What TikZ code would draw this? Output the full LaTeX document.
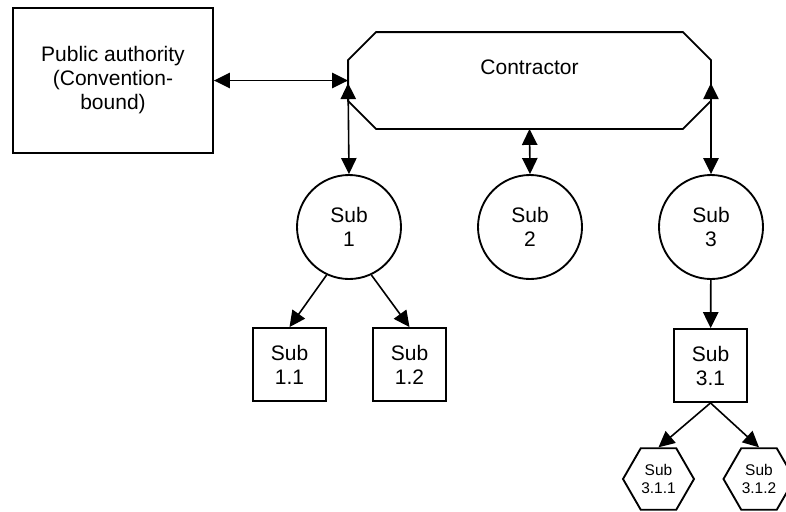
\documentclass[tikz,border=0pt]{standalone}
\usepackage{fontspec}
\setmainfont{Liberation Sans}
\usepackage{tikz}
\usetikzlibrary{arrows.meta,shapes.geometric}
\tikzset{>={Triangle[length=12pt,width=11.5pt]}}

\begin{document}
\begin{tikzpicture}[x=0.75pt,y=-0.75pt,
    line width=1.4pt,
    bigtext/.style={font=\fontsize{15.75pt}{18pt}\selectfont,align=center},
    smalltext/.style={font=\fontsize{11.6pt}{13.5pt}\selectfont,align=center},
    box/.style={draw,rectangle,inner sep=0pt,bigtext},
    subcircle/.style={draw,circle,inner sep=0pt,minimum size=78pt,bigtext},
    subbox/.style={box,minimum size=54.75pt},
    subhex/.style={draw,regular polygon,regular polygon sides=6,inner sep=0pt,minimum size=53.25pt,smalltext},
    link/.style={<->,line width=1.2pt},
    down/.style={->,line width=1.2pt}]
  % canvas
  \useasboundingbox (0,0) rectangle (786,511);

  % top row
  \node[box,minimum width=150pt,minimum height=108.75pt] (authority) at (113,80.5)
    {Public authority\\(Convention-\\bound)};
  \node[minimum width=270.75pt,minimum height=71.25pt,inner sep=0pt] (contractor) at (529.5,80.5) {};
  \draw ([xshift=21pt]contractor.north west) -- ([xshift=-21pt]contractor.north east)
     -- ([yshift=-21pt]contractor.north east) -- ([yshift=21pt]contractor.south east)
     -- ([xshift=-21pt]contractor.south east) -- ([xshift=21pt]contractor.south west)
     -- ([yshift=21pt]contractor.south west) -- ([yshift=-21pt]contractor.north west) -- cycle;
  \node[bigtext] (contractorText) at (529.5,67) {Contractor};

  % subcontractors
  \node[subcircle] (sub1) at (349,227) {Sub\\1};
  \node[subcircle] (sub2) at (530,227) {Sub\\2};
  \node[subcircle] (sub3) at (711,227) {Sub\\3};

  \node[subbox] (sub11) at (289.5,364.5) {Sub\\1.1};
  \node[subbox] (sub12) at (409.5,364.5) {Sub\\1.2};
  \node[subbox] (sub31) at (710.5,365.5) {Sub\\3.1};

  \node[subhex] (sub311) at (658.5,479) {Sub\\3.1.1};
  \node[subhex] (sub312) at (759,479) {Sub\\3.1.2};

  % arrows
  \draw[link] (authority) -- (contractor.west);
  \draw[link] (sub1.north) -- ([yshift=-2pt]contractor.west);
  \draw[link] (sub2.north) -- (contractor.south);
  \draw[link] (sub3.north) -- ([yshift=-2pt]contractor.east);

  \draw[down] (sub1.-115) -- (sub11.north);
  \draw[down] (sub1.-65) -- (sub12.north);
  \draw[down] (sub3) -- (sub31);
  \draw[down] (sub31.south) -- (sub311.north);
  \draw[down] (sub31.south) -- (sub312.north);
\end{tikzpicture}
\end{document}
